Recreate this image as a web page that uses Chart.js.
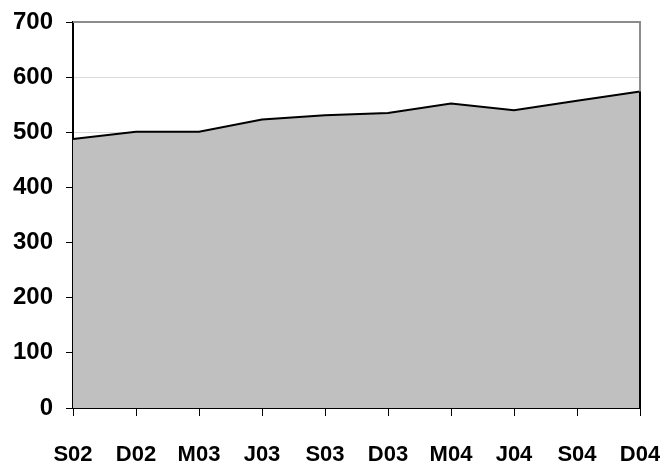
<!DOCTYPE html>
<html>
<head>
<meta charset="utf-8">
<script src="https://cdn.jsdelivr.net/npm/chart.js@4"></script>
<style>
  html, body { margin: 0; padding: 0; background: #fff; }
  #wrap { width: 660px; height: 466px; }
</style>
</head>
<body>
<div id="wrap"><canvas id="myChart"></canvas></div>
<script>
const labels = ['S02', 'D02', 'M03', 'J03', 'S03', 'D03', 'M04', 'J04', 'S04', 'D04'];
const values = [488, 501, 501, 523, 531, 535, 552, 540, 557, 574];
const yMin = 0;
const yMax = 700;
const yStep = 100;

// top/right frame of the plot area, plus the dark right edge of the area
const framePlugin = {
    id: 'frame',
    afterDatasetsDraw(chart) {
        const ctx = chart.ctx;
        const a = chart.chartArea;
        ctx.save();
        ctx.strokeStyle = '#8c8c8c';
        ctx.lineWidth = 2;
        ctx.beginPath();
        ctx.moveTo(a.left, a.top);
        ctx.lineTo(a.right, a.top);
        ctx.lineTo(a.right, a.bottom);
        ctx.stroke();
        const pts = chart.getDatasetMeta(0).data;
        const last = pts[pts.length - 1];
        ctx.strokeStyle = '#000';
        ctx.beginPath();
        ctx.moveTo(last.x, last.y);
        ctx.lineTo(last.x, a.bottom);
        ctx.stroke();
        ctx.restore();
    }
};

const ctx = document.getElementById('myChart').getContext('2d');
const chart = new Chart(ctx, {
    type: 'line',
    data: {
        labels: labels,
        datasets: [{
            data: values,
            fill: 'origin',
            backgroundColor: '#c0c0c0',
            borderColor: '#000',
            borderWidth: 2,
            pointRadius: 0,
            tension: 0
        }]
    },
    options: {
        responsive: true,
        maintainAspectRatio: false,
        animation: false,
        layout: { padding: { left: 0, right: 0, top: 22, bottom: 0 } },
        plugins: {
            legend: { display: false },
            tooltip: { enabled: false }
        },
        scales: {
            x: {
                offset: false,
                afterFit(s) { s.height = 58; s.paddingRight = 20; },
                grid: {
                    drawOnChartArea: false,
                    tickLength: 8,
                    tickColor: '#000',
                    tickWidth: 1
                },
                border: { color: '#000', width: 2 },
                ticks: {
                    color: '#000',
                    padding: 26,
                    maxRotation: 0,
                    autoSkip: false,
                    font: { family: '"Liberation Sans", Arial', size: 22, weight: 'bold' }
                }
            },
            y: {
                min: yMin,
                max: yMax,
                afterFit(s) { s.width = 73; s.paddingTop = 0; s.paddingBottom = 0; },
                grid: {
                    color: (c) => c.tick && c.tick.value === yMax ? 'rgba(0,0,0,0)' : '#d9d9d9',
                    tickLength: 7,
                    tickColor: '#000',
                    lineWidth: 1
                },
                border: { color: '#000', width: 2 },
                ticks: {
                    stepSize: yStep,
                    color: '#000',
                    padding: 13,
                    font: { family: '"Liberation Sans", Arial', size: 24, weight: 'bold' }
                }
            }
        }
    },
    plugins: [framePlugin]
});
</script>
</body>
</html>
